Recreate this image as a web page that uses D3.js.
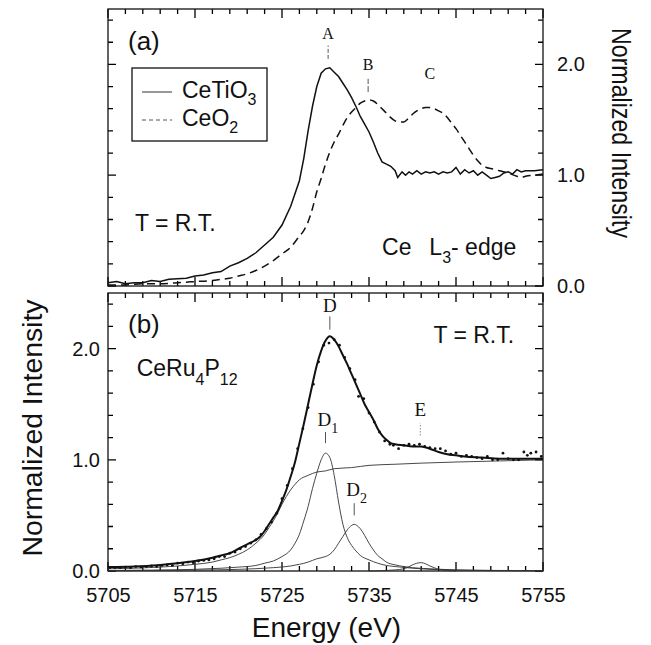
<!DOCTYPE html>
<html>
<head>
<meta charset="utf-8">
<script src="https://d3js.org/d3.v7.min.js"></script>
<style>
    body { margin: 0; background: #fff; }
    svg text { font-family: "Liberation Sans", Arial, Helvetica, sans-serif; fill: #111; }
    svg text.serif { font-family: "Liberation Serif", "Times New Roman", serif; }
</style>
</head>
<body>
<svg id="chart" width="651" height="645"></svg>
<script>
// ---- values ----
var energyTicks = [5705, 5715, 5725, 5735, 5745, 5755];
var intensityTicks = [0, 1, 2];
var intensityLabels = ["0.0", "1.0", "2.0"];

// panel (a) : [energy (eV), normalized intensity]
var ceTiO3 = [
    [5705, 0.03], [5706, 0.04], [5707, 0.02], [5708, 0.03], [5709, 0.03], [5710, 0.05],
    [5711, 0.04], [5712, 0.06], [5713, 0.065], [5714, 0.07], [5715, 0.09], [5716, 0.10],
    [5717, 0.12], [5718, 0.13], [5719, 0.18], [5720, 0.21], [5721, 0.25], [5722, 0.30],
    [5723, 0.37], [5724, 0.44], [5725, 0.55], [5726, 0.72], [5727, 0.95], [5727.5, 1.15],
    [5728, 1.40], [5728.5, 1.62], [5729, 1.80], [5729.5, 1.92], [5730, 1.96], [5730.5, 1.97],
    [5731, 1.93], [5731.5, 1.89], [5732, 1.83], [5732.5, 1.77], [5733, 1.70], [5733.5, 1.62],
    [5734, 1.53], [5734.5, 1.46], [5735, 1.39], [5735.5, 1.30], [5736, 1.20], [5736.5, 1.12],
    [5737, 1.10], [5737.5, 1.08], [5738, 1.04], [5738.3, 0.98], [5738.8, 1.03], [5739.2, 1.00],
    [5739.6, 1.03], [5740, 1.01], [5740.5, 1.04], [5741, 1.01], [5741.5, 1.03], [5742, 1.02],
    [5742.5, 1.03], [5743, 1.01], [5743.5, 1.03], [5744, 1.02], [5744.5, 1.03], [5745, 1.07],
    [5745.5, 1.01], [5746, 1.05], [5746.5, 1.02], [5747, 1.04], [5747.5, 1.00], [5748, 1.03],
    [5748.5, 1.00], [5749, 0.97], [5749.5, 0.98], [5750, 0.99], [5750.5, 1.02], [5751, 1.03],
    [5751.5, 1.01], [5752, 1.05], [5752.5, 1.03], [5753, 1.04], [5754, 1.04], [5755, 1.05]
];
var ceO2 = [
    [5705, 0.01], [5707, 0.01], [5709, 0.02], [5711, 0.02], [5713, 0.03], [5715, 0.04],
    [5717, 0.05], [5718, 0.06], [5719, 0.07], [5720, 0.09], [5721, 0.11], [5722, 0.14],
    [5723, 0.18], [5724, 0.23], [5725, 0.29], [5726, 0.35], [5727, 0.45], [5727.5, 0.50],
    [5728, 0.58], [5728.5, 0.70], [5729, 0.85], [5729.5, 0.97], [5730, 1.10], [5730.5, 1.21],
    [5731, 1.30], [5731.5, 1.37], [5732, 1.45], [5732.5, 1.52], [5733, 1.57], [5733.5, 1.61],
    [5734, 1.65], [5734.5, 1.67], [5735, 1.68], [5735.5, 1.67], [5736, 1.64], [5736.5, 1.60],
    [5737, 1.56], [5737.5, 1.52], [5738, 1.49], [5738.5, 1.48], [5739, 1.48], [5739.5, 1.51],
    [5740, 1.55], [5740.5, 1.58], [5741, 1.60], [5741.5, 1.61], [5742, 1.61], [5742.5, 1.60],
    [5743, 1.58], [5743.5, 1.56], [5744, 1.52], [5744.5, 1.47], [5745, 1.42], [5745.5, 1.36],
    [5746, 1.30], [5746.5, 1.24], [5747, 1.18], [5747.5, 1.13], [5748, 1.09], [5748.5, 1.07],
    [5749, 1.06], [5749.5, 1.05], [5750, 1.04], [5751, 1.02], [5752, 0.99], [5752.5, 0.98],
    [5753, 0.99], [5754, 1.00], [5755, 1.01]
];

// panel (b) : CeRu4P12 measured points, fit and its components
var ceRuDots = [
    [5705.2, 0.03], [5705.8, 0.03], [5706.4, 0.03], [5707, 0.035], [5707.6, 0.03], [5708.2, 0.04],
    [5708.8, 0.035], [5709.4, 0.04], [5710, 0.045], [5710.6, 0.04], [5711.2, 0.05], [5711.8, 0.055],
    [5712.4, 0.05], [5713, 0.07], [5713.6, 0.065], [5714.2, 0.08], [5714.8, 0.075], [5715.4, 0.09],
    [5716, 0.095], [5716.6, 0.10], [5717.2, 0.11], [5717.8, 0.13], [5718.4, 0.13], [5719, 0.16],
    [5719.6, 0.17], [5720.2, 0.20], [5720.8, 0.22], [5721.4, 0.25], [5722, 0.28], [5722.6, 0.33],
    [5723.2, 0.38], [5723.8, 0.44], [5724.4, 0.52], [5725, 0.65], [5725.6, 0.77], [5726.2, 0.92],
    [5726.8, 1.10], [5727.4, 1.28], [5728, 1.47], [5728.6, 1.68], [5729.2, 1.88], [5729.8, 2.03],
    [5730.4, 2.05], [5731, 2.08], [5731.6, 2.03], [5732.2, 1.92], [5732.8, 1.82], [5733.4, 1.72],
    [5733.8, 1.57], [5734.4, 1.55], [5735, 1.42], [5735.6, 1.34], [5736.2, 1.25], [5736.8, 1.17],
    [5737.4, 1.14], [5737.8, 1.13], [5738.4, 1.10], [5739, 1.13], [5739.6, 1.14], [5740.2, 1.13],
    [5740.8, 1.14], [5741.4, 1.12], [5742, 1.11], [5742.6, 1.10], [5743.2, 1.10], [5743.8, 1.08],
    [5744.4, 1.05], [5745, 1.06], [5745.6, 1.03], [5746.2, 1.04], [5746.8, 1.03], [5747.4, 1.02],
    [5748, 1.01], [5748.6, 1.03], [5749.2, 1.00], [5749.8, 1.00], [5750.4, 1.06], [5751, 1.01],
    [5751.6, 1.00], [5752.2, 1.00], [5752.8, 1.07], [5753.2, 1.04], [5753.6, 1.06], [5754.2, 1.07],
    [5754.8, 1.03]
];
var ceRuFit = [
    [5705, 0.035], [5708, 0.04], [5711, 0.055], [5713, 0.07], [5715, 0.09], [5717, 0.12],
    [5718, 0.14], [5719, 0.16], [5720, 0.20], [5721, 0.24], [5722, 0.28], [5722.5, 0.31],
    [5723, 0.36], [5723.5, 0.42], [5724, 0.48], [5724.5, 0.54], [5725, 0.63], [5725.5, 0.73],
    [5726, 0.85], [5726.5, 0.98], [5727, 1.15], [5727.5, 1.32], [5728, 1.50], [5728.5, 1.68],
    [5729, 1.85], [5729.5, 1.98], [5730, 2.07], [5730.5, 2.11], [5731, 2.08], [5731.5, 2.02],
    [5732, 1.94], [5732.5, 1.86], [5733, 1.77], [5733.5, 1.68], [5734, 1.59], [5734.5, 1.50],
    [5735, 1.43], [5735.5, 1.36], [5736, 1.28], [5736.5, 1.22], [5737, 1.18], [5737.5, 1.15],
    [5738, 1.14], [5739, 1.13], [5740, 1.12], [5741, 1.12], [5742, 1.10], [5743, 1.07],
    [5744, 1.05], [5745, 1.04], [5746, 1.03], [5748, 1.02], [5750, 1.01], [5755, 1.01]
];
var stepFn = [
    [5705, 0.02], [5708, 0.025], [5711, 0.035], [5713, 0.045], [5715, 0.06], [5717, 0.08],
    [5718, 0.10], [5719, 0.12], [5720, 0.15], [5721, 0.19], [5722, 0.25], [5723, 0.33],
    [5723.5, 0.39], [5724, 0.45], [5724.5, 0.52], [5725, 0.60], [5725.5, 0.67], [5726, 0.73],
    [5726.5, 0.78], [5727, 0.82], [5728, 0.86], [5729, 0.89], [5730, 0.90], [5731, 0.92],
    [5733, 0.93], [5735, 0.95], [5738, 0.96], [5741, 0.97], [5745, 0.98], [5750, 0.99], [5755, 1.00]
];
var peakD1 = [
    [5705, 0.005], [5710, 0.008], [5715, 0.015], [5718, 0.025], [5720, 0.035], [5722, 0.05],
    [5723, 0.07], [5724, 0.09], [5725, 0.13], [5726, 0.19], [5726.5, 0.25], [5727, 0.33],
    [5727.5, 0.45], [5728, 0.58], [5728.5, 0.74], [5729, 0.88], [5729.5, 1.00], [5730, 1.06],
    [5730.5, 1.02], [5731, 0.86], [5731.5, 0.62], [5732, 0.42], [5732.5, 0.30], [5733, 0.23],
    [5733.5, 0.18], [5734, 0.14], [5735, 0.10], [5736, 0.07], [5737, 0.05], [5738, 0.04],
    [5740, 0.025], [5742, 0.015], [5745, 0.008], [5750, 0.004], [5755, 0.002]
];
var peakD2 = [
    [5705, 0.003], [5715, 0.008], [5720, 0.015], [5724, 0.03], [5726, 0.045], [5727, 0.06],
    [5728, 0.08], [5729, 0.11], [5730, 0.13], [5730.5, 0.15], [5731, 0.19], [5731.5, 0.25],
    [5732, 0.31], [5732.5, 0.37], [5733, 0.41], [5733.3, 0.42], [5733.6, 0.41], [5734, 0.38],
    [5734.5, 0.32], [5735, 0.25], [5735.5, 0.19], [5736, 0.14], [5736.5, 0.11], [5737, 0.08],
    [5738, 0.055], [5739, 0.04], [5740, 0.03], [5742, 0.02], [5745, 0.01], [5750, 0.005], [5755, 0.003]
];
var peakE = [
    [5735, 0.0], [5737, 0.005], [5738, 0.01], [5739, 0.02], [5739.5, 0.035], [5740, 0.055],
    [5740.5, 0.07], [5741, 0.075], [5741.5, 0.065], [5742, 0.045], [5742.5, 0.03], [5743, 0.015],
    [5744, 0.005], [5745, 0.0]
];

// ---- scales ----
var svg = d3.select("#chart");
var left = 108, right = 543;
var topA = 9, bottomA = 286, topB = 293, bottomB = 571;

var x = d3.scaleLinear().domain([5705, 5755]).range([left, right]);
var yA = d3.scaleLinear().domain([0, 2.5]).range([bottomA, topA]);
var yB = d3.scaleLinear().domain([0, 2.5]).range([bottomB, topB]);

var xMinor = d3.range(5705, 5756, 2).filter(function (d) { return (d - 5705) % 10 !== 0; });
var yMinor = d3.range(1, 13).filter(function (i) { return i % 5 !== 0; }).map(function (i) { return i / 5; });

// inward tick marks on all four sides of a panel, drawn as one path
function frame(y, y0, y1) {
    var d = "";
    energyTicks.forEach(function (e) {
        d += "M" + x(e) + "," + y0 + "v9M" + x(e) + "," + y1 + "v-9";
    });
    xMinor.forEach(function (e) {
        d += "M" + x(e) + "," + y0 + "v5M" + x(e) + "," + y1 + "v-5";
    });
    intensityTicks.forEach(function (v) {
        d += "M" + left + "," + y(v) + "h8M" + right + "," + y(v) + "h-8";
    });
    yMinor.forEach(function (v) {
        d += "M" + left + "," + y(v) + "h5M" + right + "," + y(v) + "h-5";
    });
    svg.append("path")
        .attr("d", d)
        .attr("fill", "none").attr("stroke", "#000").attr("stroke-width", 1.3);
    svg.append("rect")
        .attr("x", left).attr("y", y0)
        .attr("width", right - left).attr("height", y1 - y0)
        .attr("fill", "none").attr("stroke", "#111").attr("stroke-width", 1.3);
}

function labelAxis(g, size) {
    g.select(".domain").remove();
    g.selectAll("text")
        .attr("font-family", "'Liberation Sans', Arial, sans-serif")
        .attr("font-size", size).attr("fill", "#111");
}

// ---- panel (a) ----
frame(yA, topA, bottomA);

svg.append("g")
    .attr("transform", "translate(" + right + ",0)")
    .call(d3.axisRight(yA).tickValues(intensityTicks).tickSize(0).tickPadding(14)
        .tickFormat(function (d, i) { return intensityLabels[i]; }))
    .call(function (g) { labelAxis(g, 20); });

var lineA = d3.line()
    .x(function (d) { return x(d[0]); })
    .y(function (d) { return yA(d[1]); });

svg.append("path").datum(ceO2)
    .attr("d", lineA.curve(d3.curveMonotoneX))
    .attr("fill", "none").attr("stroke", "#111").attr("stroke-width", 1.5)
    .attr("stroke-dasharray", "8,5");

svg.append("path").datum(ceTiO3)
    .attr("d", lineA.curve(d3.curveLinear))
    .attr("fill", "none").attr("stroke", "#111").attr("stroke-width", 1.5);

// peak markers A, B, C
function peakLabel(txt, e, v, y, size) {
    svg.append("text").attr("class", "serif")
        .attr("x", x(e)).attr("y", y(v))
        .attr("text-anchor", "middle").attr("font-size", size)
        .text(txt);
}
function peakTick(e, v0, v1, y, dash) {
    svg.append("line")
        .attr("x1", x(e)).attr("x2", x(e))
        .attr("y1", y(v0)).attr("y2", y(v1))
        .attr("stroke", "#555").attr("stroke-width", 1)
        .attr("stroke-dasharray", dash);
}
peakLabel("A", 5730.3, 2.23, yA, 16);
peakTick(5730.3, 2.05, 2.17, yA, "4,2");
peakLabel("B", 5734.9, 1.95, yA, 16);
peakTick(5734.9, 1.75, 1.87, yA, "6,2");
peakLabel("C", 5742, 1.87, yA, 16);

svg.append("text").attr("x", x(5707.3)).attr("y", yA(2.13))
    .attr("font-size", 26).text("(a)");
svg.append("text").attr("x", x(5708.1)).attr("y", yA(0.50))
    .attr("font-size", 23).text("T = R.T.");

var edge = svg.append("text").attr("x", x(5736.5)).attr("y", yA(0.28)).attr("font-size", 23);
edge.append("tspan").text("Ce\u2002 L");
edge.append("tspan").attr("dy", 8).attr("font-size", 16).text("3");
edge.append("tspan").attr("dy", -8).text("- edge");

// legend
var legend = svg.append("g");
legend.append("rect")
    .attr("x", 132).attr("y", 68).attr("width", 135).attr("height", 73)
    .attr("fill", "#fff").attr("stroke", "#111").attr("stroke-width", 1.3);
legend.append("line").attr("x1", 142).attr("x2", 172).attr("y1", 92).attr("y2", 92)
    .attr("stroke", "#333").attr("stroke-width", 1);
legend.append("line").attr("x1", 142).attr("x2", 172).attr("y1", 120).attr("y2", 120)
    .attr("stroke", "#555").attr("stroke-width", 1).attr("stroke-dasharray", "4,3");
var lg1 = legend.append("text").attr("x", 182).attr("y", 98).attr("font-size", 23);
lg1.append("tspan").text("CeTiO");
lg1.append("tspan").attr("dy", 7).attr("font-size", 16).text("3");
var lg2 = legend.append("text").attr("x", 182).attr("y", 126).attr("font-size", 23);
lg2.append("tspan").text("CeO");
lg2.append("tspan").attr("dy", 7).attr("font-size", 16).text("2");

// right axis title
svg.append("text")
    .attr("transform", "translate(612,133) rotate(90)")
    .attr("text-anchor", "middle").attr("font-size", 27)
    .attr("textLength", 210).attr("lengthAdjust", "spacingAndGlyphs")
    .text("Normalized Intensity");

// ---- panel (b) ----
frame(yB, topB, bottomB);

svg.append("g")
    .attr("transform", "translate(0," + bottomB + ")")
    .call(d3.axisBottom(x).tickValues(energyTicks).tickSize(0).tickPadding(17)
        .tickFormat(d3.format("d")))
    .call(function (g) { labelAxis(g, 20); });

svg.append("g")
    .attr("transform", "translate(" + left + ",0)")
    .call(d3.axisLeft(yB).tickValues(intensityTicks).tickSize(0).tickPadding(8)
        .tickFormat(function (d, i) { return intensityLabels[i]; }))
    .call(function (g) { labelAxis(g, 20); });

var lineB = d3.line()
    .x(function (d) { return x(d[0]); })
    .y(function (d) { return yB(d[1]); })
    .curve(d3.curveMonotoneX);

[stepFn, peakD1, peakD2, peakE].forEach(function (s) {
    svg.append("path").datum(s)
        .attr("d", lineB)
        .attr("fill", "none").attr("stroke", "#333").attr("stroke-width", 0.9);
});

svg.append("path").datum(ceRuFit)
    .attr("d", lineB)
    .attr("fill", "none").attr("stroke", "#111").attr("stroke-width", 2);

svg.append("g").selectAll("circle")
    .data(ceRuDots)
    .enter()
    .append("circle")
    .attr("cx", function (d) { return x(d[0]); })
    .attr("cy", function (d) { return yB(d[1]); })
    .attr("r", 1.4)
    .attr("fill", "#111");

// peak markers D, D1, D2, E
peakLabel("D", 5730.5, 2.33, yB, 19);
peakTick(5730.5, 2.17, 2.29, yB, null);
peakTick(5740.9, 1.22, 1.33, yB, "1,2");
peakLabel("E", 5740.9, 1.39, yB, 19);

function subLabel(base, sub, e, v) {
    var t = svg.append("text").attr("class", "serif")
        .attr("x", x(e) - 8).attr("y", yB(v)).attr("font-size", 19);
    t.append("tspan").text(base);
    t.append("tspan").attr("dy", 7).attr("font-size", 14).text(sub);
}
subLabel("D", "1", 5730, 1.30);
peakTick(5730, 1.15, 1.25, yB, null);
subLabel("D", "2", 5733.3, 0.67);
peakTick(5733.3, 0.50, 0.61, yB, null);

svg.append("text").attr("x", x(5707.3)).attr("y", yB(2.14))
    .attr("font-size", 26).text("(b)");
svg.append("text").attr("x", x(5742.4)).attr("y", yB(2.05))
    .attr("font-size", 23).text("T = R.T.");

var comp = svg.append("text").attr("x", x(5708.3)).attr("y", yB(1.75)).attr("font-size", 23);
comp.append("tspan").text("CeRu");
comp.append("tspan").attr("dy", 9).attr("font-size", 16).text("4");
comp.append("tspan").attr("dy", -9).text("P");
comp.append("tspan").attr("dy", 9).attr("font-size", 16).text("12");

// axis titles
svg.append("text")
    .attr("transform", "translate(42,428) rotate(-90)")
    .attr("text-anchor", "middle").attr("font-size", 27)
    .attr("textLength", 257).attr("lengthAdjust", "spacingAndGlyphs")
    .text("Normalized Intensity");

svg.append("text")
    .attr("x", (left + right) / 2 + 1).attr("y", 637)
    .attr("text-anchor", "middle").attr("font-size", 28)
    .text("Energy (eV)");
</script>
</body>
</html>
